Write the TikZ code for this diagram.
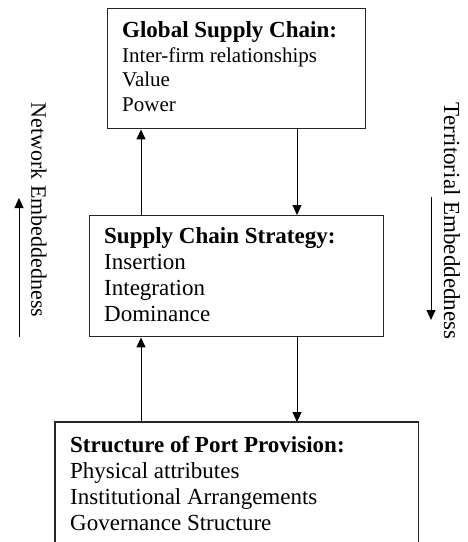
\documentclass[tikz,border=0pt]{standalone}
\usepackage{fontspec}
\setmainfont{Liberation Serif}
\usetikzlibrary{arrows.meta}
\begin{document}
\begin{tikzpicture}[x=1pt,y=-1pt,
  boxshape/.style={draw=black!85,line width=1.4pt,inner sep=0pt,anchor=north west},
  boxtext/.style={anchor=north west,inner sep=0pt,align=left,font=\fontsize{23}{26}\selectfont},
  sidetext/.style={rotate=-90,inner sep=0pt,font=\fontsize{22}{26}\selectfont},
  arr/.style={line width=0.9pt,-{Triangle[width=9pt,length=10pt]}}]
\useasboundingbox (0,0) rectangle (468,542);
% boxes
\node[boxshape,minimum width=258pt,minimum height=120pt] (gsc) at (107,8) {};
\node[boxshape,minimum width=294pt,minimum height=121pt] (scs) at (89,215) {};
\node[boxshape,draw=none,minimum width=362pt,minimum height=122pt] (pp) at (55,422) {};
\draw[draw=black!85,line width=1.4pt] (pp.south west) -- (pp.north west) -- (pp.north east) -- (pp.south east);
% texts
\node[boxtext,font=\fontsize{21}{24.5}\selectfont] (gsct) at (122,21.5) {{\fontsize{23}{24.5}\selectfont\bfseries Global Supply Chain:}\\Inter-firm relationships\\Value\\Power};
\node[boxtext] (scst) at (104,227.5) {\textbf{Supply Chain Strategy:}\\Insertion\\Integration\\Dominance};
\node[boxtext] (ppt) at (70,436.5) {\textbf{Structure of Port Provision:}\\Physical attributes\\Institutional Arrangements\\Governance Structure};
% connectors
\draw[arr] ([xshift=52pt]scs.north west) -- ([xshift=52pt]scs.north west |- gsc.south);
\draw[arr] ([xshift=190pt]gsc.south west) -- ([xshift=190pt]gsc.south west |- scs.north);
\draw[arr] ([xshift=86pt]pp.north west) -- ([xshift=86pt]pp.north west |- scs.south);
\draw[arr] ([xshift=208pt]scs.south west) -- ([xshift=208pt]scs.south west |- pp.north);
% side labels
\coordinate (ne0) at (19,337);
\coordinate (ne1) at (19,198);
\draw[arr] (ne0) -- (ne1);
\node[sidetext] (nel) at (39,210) {Network Embeddedness};
\coordinate (te0) at (431,197);
\coordinate (te1) at (431,320);
\draw[arr] (te0) -- (te1);
\node[sidetext,font=\fontsize{23}{26}\selectfont] (tel) at (452,221) {Territorial Embeddedness};
\end{tikzpicture}
\end{document}
